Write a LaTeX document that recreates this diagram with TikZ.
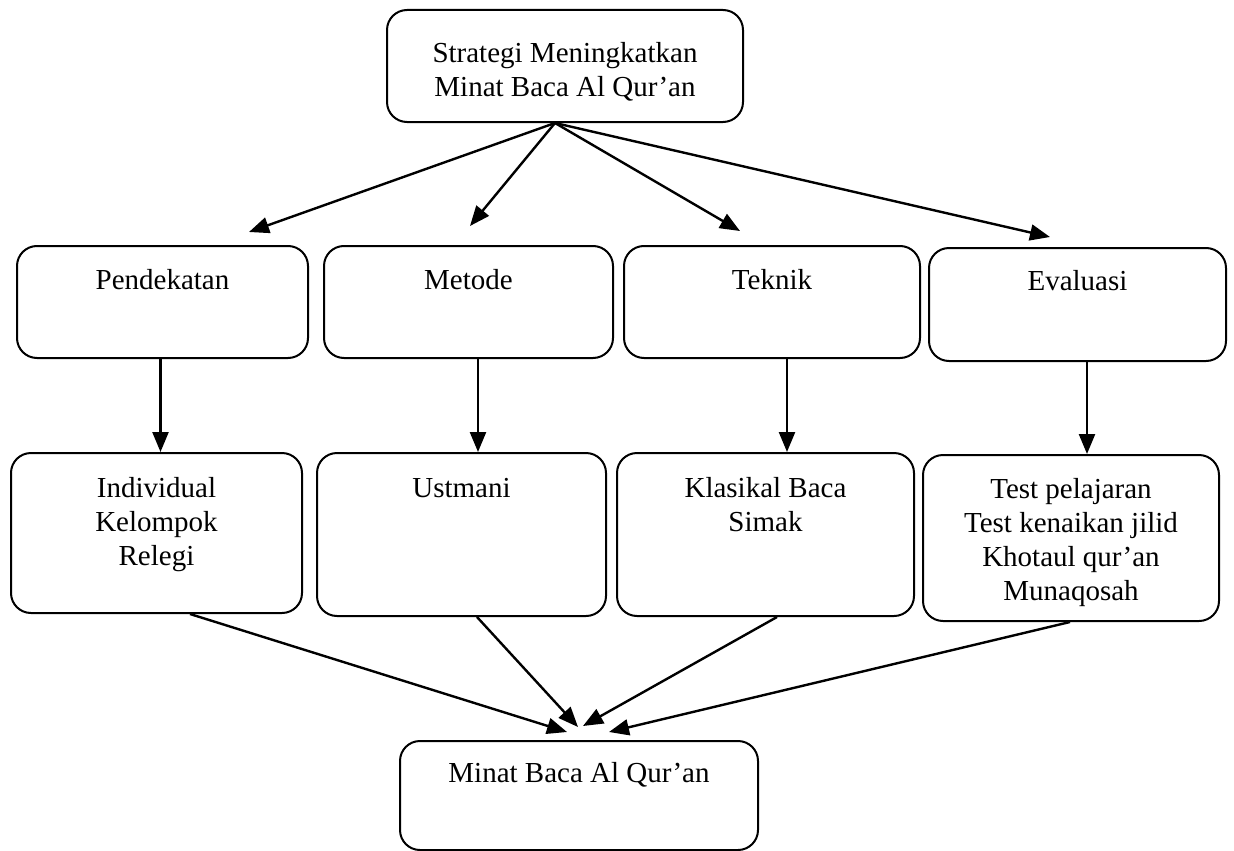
\documentclass[tikz,border=0pt]{standalone}
\usepackage{fontspec}
\setmainfont{Liberation Serif}
\usetikzlibrary{arrows.meta}
\tikzset{
  box/.style={draw=black, line width=2pt, rounded corners=20pt, rectangle, inner sep=0pt},
  lbl/.style={font=\fontsize{29}{34}\selectfont, align=center, inner sep=0pt, anchor=base},
  arr/.style={line width=2.4pt, -{Triangle[length=20pt,width=16pt]}}
}
\begin{document}
\begin{tikzpicture}[x=1pt,y=-1pt]
\useasboundingbox (0,0) rectangle (1234,851);
% boxes
\node[box, minimum width=356pt, minimum height=112pt] (top) at (565,66) {};
\node[box, minimum width=291pt, minimum height=112pt] (pend) at (162.5,302) {};
\node[box, minimum width=289pt, minimum height=112pt] (meto) at (468.5,302) {};
\node[box, minimum width=296pt, minimum height=112pt] (tekn) at (772,302) {};
\node[box, minimum width=297pt, minimum height=113pt] (eval) at (1077.5,304.5) {};
\node[box, minimum width=291pt, minimum height=160pt] (indi) at (156.5,533) {};
\node[box, minimum width=289pt, minimum height=163pt] (ustm) at (461.5,534.5) {};
\node[box, minimum width=297pt, minimum height=163pt] (klas) at (765.5,534.5) {};
\node[box, minimum width=296pt, minimum height=166pt] (test) at (1071,538) {};
\node[box, minimum width=358pt, minimum height=109pt] (mina) at (579,795.5) {};
% labels (base anchor = baseline of last line)
\node[lbl] (ttop) at ([yshift=-87pt]top.north) {Strategi Meningkatkan\\Minat Baca Al Qur’an};
\node[lbl] (tpend) at ([yshift=-44pt]pend.north) {Pendekatan};
\node[lbl] (tmeto) at ([yshift=-44pt]meto.north) {Metode};
\node[lbl] (ttekn) at ([yshift=-44pt]tekn.north) {Teknik};
\node[lbl] (teval) at ([yshift=-43pt]eval.north) {Evaluasi};
\node[lbl] (tindi) at ([yshift=-113pt]indi.north) {Individual\\Kelompok\\Relegi};
\node[lbl] (tustm) at ([yshift=-45pt]ustm.north) {Ustmani};
\node[lbl] (tklas) at ([yshift=-79pt]klas.north) {Klasikal Baca\\Simak};
\node[lbl] (ttest) at ([yshift=-146pt]test.north) {Test pelajaran\\Test kenaikan jilid\\Khotaul qur’an\\Munaqosah};
\node[lbl] (tmina) at ([yshift=-42pt]mina.north) {Minat Baca Al Qur’an};
% connector ends
\coordinate (s) at ([xshift=-10pt]top.south);
\coordinate (p1) at ([xshift=86.5pt,yshift=13pt]pend.north);
\coordinate (p2) at ([xshift=1.5pt,yshift=19pt]meto.north);
\coordinate (p3) at ([xshift=-32pt,yshift=14pt]tekn.north);
\coordinate (p4) at ([xshift=-27.5pt,yshift=10pt]eval.north);
\coordinate (q1) at ([xshift=-12pt,yshift=8pt]mina.north);
\coordinate (q2) at ([xshift=-1pt,yshift=13pt]mina.north);
\coordinate (q3) at ([xshift=4pt,yshift=14pt]mina.north);
\coordinate (q4) at ([xshift=30pt,yshift=8pt]mina.north);
% top fan
\draw[arr] (s) -- (p1);
\draw[arr] (s) -- (p2);
\draw[arr] (s) -- (p3);
\draw[arr] (s) -- (p4);
% verticals
\draw[arr] ([xshift=-2pt]pend.south) -- ([xshift=-2pt]pend.south |- indi.north);
\draw[arr] ([xshift=9.5pt]meto.south) -- ([xshift=9.5pt]meto.south |- ustm.north);
\draw[arr] ([xshift=15pt]tekn.south) -- ([xshift=15pt]tekn.south |- klas.north);
\draw[arr] ([xshift=9.5pt]eval.south) -- ([xshift=9.5pt]eval.south |- test.north);
% bottom fan
\draw[arr] ([xshift=33.5pt]indi.south) -- (q1);
\draw[arr] ([xshift=15.5pt]ustm.south) -- (q2);
\draw[arr] ([xshift=11.5pt]klas.south) -- (q3);
\draw[arr] ([xshift=-1pt]test.south) -- (q4);
\end{tikzpicture}
\end{document}
